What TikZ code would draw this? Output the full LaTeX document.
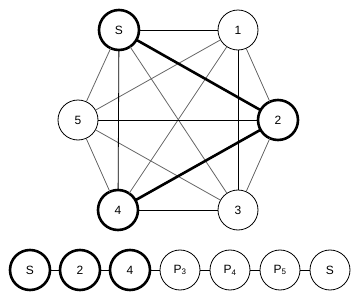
\documentclass[tikz,border=0pt]{standalone}
\usepackage{fontspec}
\setmainfont{Liberation Sans}
\usetikzlibrary{positioning}

\tikzset{
    vert/.style={circle, draw, fill=white, line width=0.8pt, minimum size=40pt, inner sep=0pt, outer sep=0pt, font=\fontsize{12}{14}\selectfont},
    tour/.style={vert, line width=2.6pt},
    plain/.style={line width=0.8pt},
    cross/.style={line width=0.8pt, gray!80!black},
    path/.style={line width=2.6pt}
}

\begin{document}
\begin{tikzpicture}[x=1pt, y=-1pt]
    \useasboundingbox (0,0) rectangle (360,300);

    % Graph vertices
    \node[tour] (S) at (119, 30) {S};
    \node[vert] (v1) at (238, 30) {1};
    \node[vert] (v5) at (78, 120) {5};
    \node[tour] (v2) at (278, 120) {2};
    \node[tour] (v4) at (118, 210) {4};
    \node[vert] (v3) at (238, 210) {3};

    % Remaining edges
    \foreach \a/\b in {S/v5, S/v3, v1/v5, v1/v4, v1/v2, v2/v3, v5/v4, v5/v3} {
        \draw[cross] (\a) -- (\b);
    }
    \foreach \a/\b in {S/v1, v5/v2, v4/v3, S/v4, v1/v3} {
        \draw[plain] (\a) -- (\b);
    }

    % Partial tour
    \draw[path] (S) -- (v2);
    \draw[path] (v2) -- (v4);

    % Sequence row
    \node[tour] (q1) at (30, 270) {S};
    \node[tour, right=10pt of q1] (q2) {2};
    \node[tour, right=10pt of q2] (q3) {4};
    \node[vert, right=10pt of q3] (q4) {P\textsubscript{3}};
    \node[vert, right=10pt of q4] (q5) {P\textsubscript{4}};
    \node[vert, right=10pt of q5] (q6) {P\textsubscript{5}};
    \node[vert, right=10pt of q6] (q7) {S};
    \foreach \a/\b in {q1/q2, q2/q3, q3/q4, q4/q5, q5/q6, q6/q7} {
        \draw[plain] (\a) -- (\b);
    }
\end{tikzpicture}
\end{document}
